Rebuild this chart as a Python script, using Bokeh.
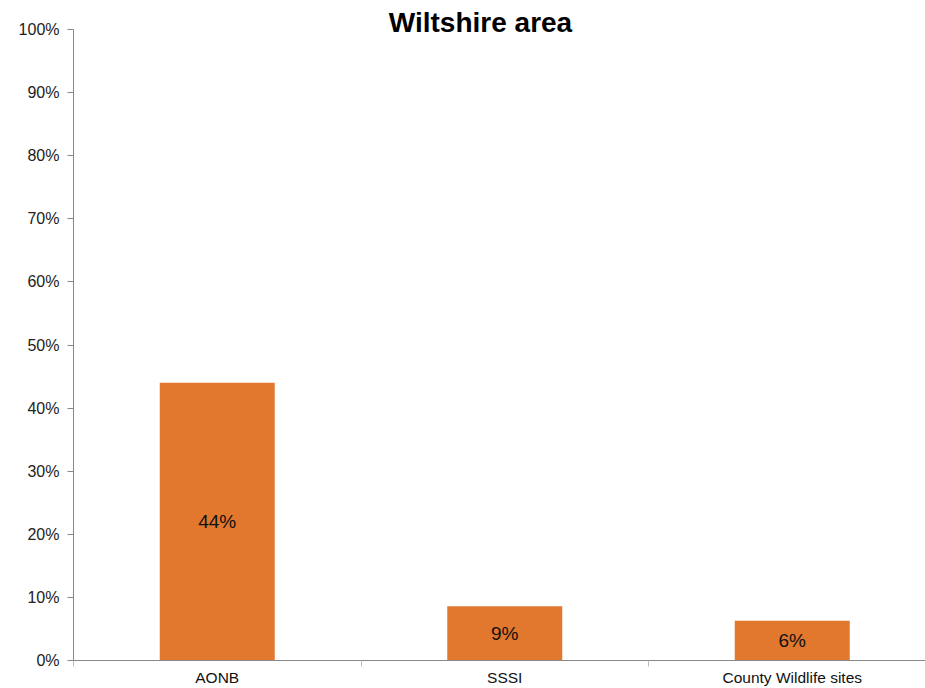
from bokeh.plotting import figure
from bokeh.models import FixedTicker, Range1d, Label, ColumnDataSource, NumeralTickFormatter
from bokeh.core.properties import value
from bokeh.embed import file_html
from bokeh.resources import INLINE

categories = ["AONB", "SSSI", "County Wildlife sites"]
values = [0.44, 0.086, 0.063]
labels = ["44%", "9%", "6%"]
y_ticks = [0, 0.1, 0.2, 0.3, 0.4, 0.5, 0.6, 0.7, 0.8, 0.9, 1.0]

FONT = "Liberation Sans"
BAR = "#E2782E"

BOTTOM = 28              # expected height of the bottom axis area
FRAME_H = 688 - BOTTOM
PX_PER_UNIT = (FRAME_H - 29)  # 1.0 (100%) sits 29px below the top
Y_TOP = FRAME_H / PX_PER_UNIT

xs = [i + 0.5 for i in range(len(categories))]
src = ColumnDataSource(dict(x=xs, top=values, mid=[v / 2 for v in values], lab=labels))

p = figure(width=925, height=688, output_backend="svg", toolbar_location=None,
           x_range=Range1d(0, 852 / 287.5), y_range=Range1d(0, Y_TOP),
           min_border_left=73, min_border_right=0, min_border_top=0, min_border_bottom=0)
p.outline_line_color = None
p.xgrid.visible = False
p.ygrid.visible = False
p.background_fill_color = "white"
p.border_fill_color = "white"

p.vbar(x="x", top="top", width=0.4, bottom=0, source=src, fill_color=BAR, line_color=None)
p.text(x="x", y="mid", text="lab", source=src, text_align="center", text_baseline="middle",
       text_font=value(FONT), text_font_size="19px", text_color="#111111")

# x axis
p.xaxis.ticker = FixedTicker(ticks=xs, minor_ticks=[0, 1, 2])
p.xaxis.major_label_overrides = {x: c for x, c in zip(xs, categories)}
p.xaxis.major_tick_out = 0
p.xaxis.major_tick_in = 0
p.xaxis.minor_tick_out = 6
p.xaxis.minor_tick_in = 0
p.xaxis.minor_tick_line_color = "#BBBBBB"
p.xaxis.axis_line_color = "#888888"
p.xaxis.major_label_standoff = 2
p.xaxis.major_label_text_font = FONT
p.xaxis.major_label_text_font_size = "15.5px"
p.xaxis.major_label_text_color = "#111111"

# y axis
p.yaxis.ticker = FixedTicker(ticks=y_ticks, minor_ticks=[])
p.yaxis.bounds = (0, 1.0)
p.yaxis.formatter = NumeralTickFormatter(format="0%")
p.yaxis.major_tick_out = 6
p.yaxis.major_tick_in = 0
p.yaxis.major_tick_line_color = "#888888"
p.yaxis.axis_line_color = "#888888"
p.yaxis.major_label_standoff = 8
p.yaxis.major_label_text_font = FONT
p.yaxis.major_label_text_font_size = "16px"
p.yaxis.major_label_text_color = "#222222"

title = Label(x=(480 - 73) / 287.5, y=1.0 + 7 / PX_PER_UNIT, text="Wiltshire area",
              text_align="center", text_baseline="middle",
              text_font=FONT, text_font_size="28px", text_font_style="bold",
              text_color="#000000")
p.add_layout(title)

open("out.html", "w").write(file_html(p, INLINE))
